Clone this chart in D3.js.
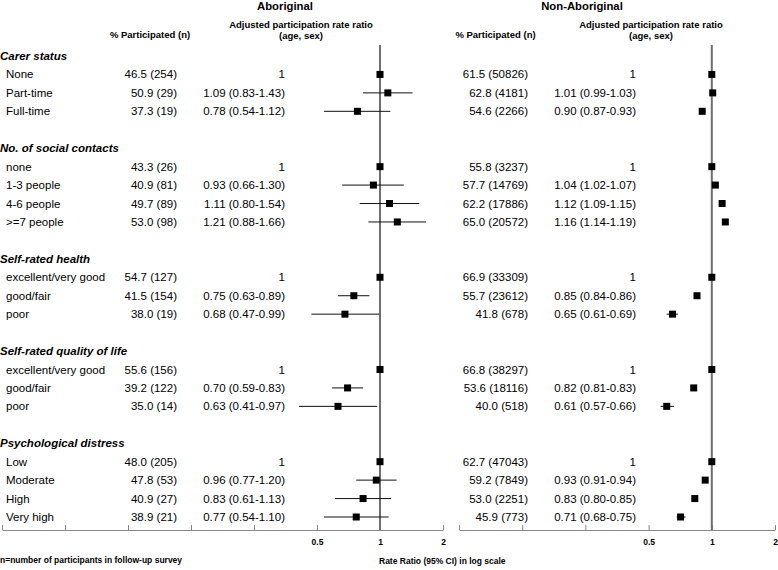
<!DOCTYPE html>
<html>
<head>
<meta charset="utf-8">
<script src="https://cdn.jsdelivr.net/npm/d3@7"></script>
<style>
  body { margin: 0; background: #fff; }
  svg { display: block; font-family: "Liberation Sans", Arial, sans-serif; }
</style>
</head>
<body>
<svg id="chart" width="778" height="570"></svg>
<script>
// ---------------- DATA ----------------
const groups = ["Carer status", "No. of social contacts", "Self-rated health", "Self-rated quality of life", "Psychological distress"];
const categories = [
  ["None", "Part-time", "Full-time"],
  ["none", "1-3 people", "4-6 people", ">=7 people"],
  ["excellent/very good", "good/fair", "poor"],
  ["excellent/very good", "good/fair", "poor"],
  ["Low", "Moderate", "High", "Very high"]
];
// Aboriginal
const abPct = [[46.5, 50.9, 37.3], [43.3, 40.9, 49.7, 53.0], [54.7, 41.5, 38.0], [55.6, 39.2, 35.0], [48.0, 47.8, 40.9, 38.9]];
const abN   = [[254, 29, 19], [26, 81, 89, 98], [127, 154, 19], [156, 122, 14], [205, 53, 27, 21]];
const abRR  = [[1, 1.09, 0.78], [1, 0.93, 1.11, 1.21], [1, 0.75, 0.68], [1, 0.70, 0.63], [1, 0.96, 0.83, 0.77]];
const abLo  = [[null, 0.83, 0.54], [null, 0.66, 0.80, 0.88], [null, 0.63, 0.47], [null, 0.59, 0.41], [null, 0.77, 0.61, 0.54]];
const abHi  = [[null, 1.43, 1.12], [null, 1.30, 1.54, 1.66], [null, 0.89, 0.99], [null, 0.83, 0.97], [null, 1.20, 1.13, 1.10]];
// Non-Aboriginal
const naPct = [[61.5, 62.8, 54.6], [55.8, 57.7, 62.2, 65.0], [66.9, 55.7, 41.8], [66.8, 53.6, 40.0], [62.7, 59.2, 53.0, 45.9]];
const naN   = [[50826, 4181, 2266], [3237, 14769, 17886, 20572], [33309, 23612, 678], [38297, 18116, 518], [47043, 7849, 2251, 773]];
const naRR  = [[1, 1.01, 0.90], [1, 1.04, 1.12, 1.16], [1, 0.85, 0.65], [1, 0.82, 0.61], [1, 0.93, 0.83, 0.71]];
const naLo  = [[null, 0.99, 0.87], [null, 1.02, 1.09, 1.14], [null, 0.84, 0.61], [null, 0.81, 0.57], [null, 0.91, 0.80, 0.68]];
const naHi  = [[null, 1.03, 0.93], [null, 1.07, 1.15, 1.19], [null, 0.86, 0.69], [null, 0.83, 0.66], [null, 0.94, 0.85, 0.75]];
// Axis ticks (log scale)
const leftTicks  = [1/64, 1/32, 1/16, 1/8, 1/4, 0.5, 1, 2];
const rightTicks = [1/16, 1/8, 1/4, 0.5, 1, 2];
const tickLabels = {"0.5": "0.5", "1": "1", "2": "2"};

// ---------------- BUILD ROWS ----------------
const rows = [];
groups.forEach((g, gi) => {
  rows.push({type: "header", label: g, id: "h" + gi});
  categories[gi].forEach((c, ci) => {
    rows.push({
      type: "item", label: c, id: "r" + gi + "_" + ci,
      ab: {pct: abPct[gi][ci], n: abN[gi][ci], rr: abRR[gi][ci], lo: abLo[gi][ci], hi: abHi[gi][ci]},
      na: {pct: naPct[gi][ci], n: naN[gi][ci], rr: naRR[gi][ci], lo: naLo[gi][ci], hi: naHi[gi][ci]}
    });
  });
  if (gi < groups.length - 1) rows.push({type: "blank", id: "b" + gi});
});

const svg = d3.select("#chart");
const y = d3.scalePoint().domain(rows.map(r => r.id)).range([56, 517]);
const xL = d3.scaleLog().base(2).domain([1/64, 2]).range([2, 443]);
const xR = d3.scaleLog().base(2).domain([1/16, 2]).range([459, 775]);
const axisY = 530;

const fmtRR = d => d.rr === 1 && d.lo == null ? "1" : `${d.rr.toFixed(2)} (${d.lo.toFixed(2)}-${d.hi.toFixed(2)})`;
const fmtPct = d => `${d.pct.toFixed(1)} (${d.n})`;

// ---------------- HEADERS ----------------
const hdr = svg.append("g").attr("font-weight", "bold").attr("fill", "#000").attr("text-anchor", "middle");
hdr.append("text").attr("x", 285).attr("y", 6).attr("dy", "0.35em").attr("font-size", 11.3).text("Aboriginal");
hdr.append("text").attr("x", 582).attr("y", 6).attr("dy", "0.35em").attr("font-size", 11.3).text("Non-Aboriginal");
[[301, 150], [651, 495.5]].forEach(([cx, px]) => {
  hdr.append("text").attr("x", cx).attr("y", 25).attr("dy", "0.35em").attr("font-size", 9.5).text("Adjusted participation rate ratio");
  hdr.append("text").attr("x", cx).attr("y", 36).attr("dy", "0.35em").attr("font-size", 9.5).text("(age, sex)");
  hdr.append("text").attr("x", px).attr("y", 35).attr("dy", "0.35em").attr("font-size", 9.5).text("% Participated (n)");
});

// ---------------- TABLE TEXT ----------------
const tbl = svg.append("g").attr("font-size", 11.5).attr("fill", "#000");
rows.filter(r => r.type === "header").forEach(r => {
  tbl.append("text").attr("x", 0).attr("y", y(r.id)).attr("dy", "0.35em")
    .attr("font-weight", "bold").attr("font-style", "italic").text(r.label);
});
const items = rows.filter(r => r.type === "item");
items.forEach(r => {
  const yy = y(r.id);
  tbl.append("text").attr("x", 6).attr("y", yy).attr("dy", "0.35em").text(r.label);
  tbl.append("text").attr("x", 177).attr("y", yy).attr("dy", "0.35em").attr("text-anchor", "end").text(fmtPct(r.ab));
  tbl.append("text").attr("x", 285).attr("y", yy).attr("dy", "0.35em").attr("text-anchor", "end").text(fmtRR(r.ab));
  tbl.append("text").attr("x", 528).attr("y", yy).attr("dy", "0.35em").attr("text-anchor", "end").text(fmtPct(r.na));
  tbl.append("text").attr("x", 636).attr("y", yy).attr("dy", "0.35em").attr("text-anchor", "end").text(fmtRR(r.na));
});

// ---------------- AXES ----------------
function drawAxis(scale, ticks) {
  const ax = d3.axisBottom(scale).tickValues(ticks).tickSizeInner(-5).tickSizeOuter(0).tickPadding(9)
    .tickFormat(d => tickLabels[String(d)] || "");
  const g = svg.append("g").attr("transform", `translate(0,${axisY})`).call(ax);
  g.select(".domain").attr("stroke", "#888");
  g.selectAll(".tick line").attr("stroke", "#888");
  g.selectAll(".tick text").attr("font-size", 8.5).attr("font-weight", "bold").attr("fill", "#000")
    .attr("font-family", "Liberation Sans, Arial, sans-serif");
}
drawAxis(xL, leftTicks);
drawAxis(xR, rightTicks);

// reference lines at 1
[xL, xR].forEach(sc => {
  svg.append("line").attr("x1", sc(1)).attr("x2", sc(1)).attr("y1", 45).attr("y2", axisY)
    .attr("stroke", "#6e6e6e").attr("stroke-width", 2);
});

// ---------------- MARKS ----------------
function drawMarks(scale, key) {
  const g = svg.append("g");
  items.forEach(r => {
    const d = r[key], yy = y(r.id);
    if (d.lo != null) {
      g.append("line").attr("x1", scale(d.lo)).attr("x2", scale(d.hi)).attr("y1", yy).attr("y2", yy)
        .attr("stroke", "#111").attr("stroke-width", 1);
    }
    g.append("rect").attr("x", scale(d.rr) - 3.5).attr("y", yy - 3.5).attr("width", 7).attr("height", 7).attr("fill", "#000");
  });
}
drawMarks(xL, "ab");
drawMarks(xR, "na");

// ---------------- FOOTER ----------------
svg.append("text").attr("x", 0).attr("y", 560).attr("dy", "0.35em").attr("font-size", 8.5).attr("font-weight", "bold")
  .text("n=number of participants in follow-up survey");
svg.append("text").attr("x", 379).attr("y", 561).attr("dy", "0.35em").attr("font-size", 8.5).attr("font-weight", "bold")
  .text("Rate Ratio (95% CI) in log scale");
</script>
</body>
</html>
